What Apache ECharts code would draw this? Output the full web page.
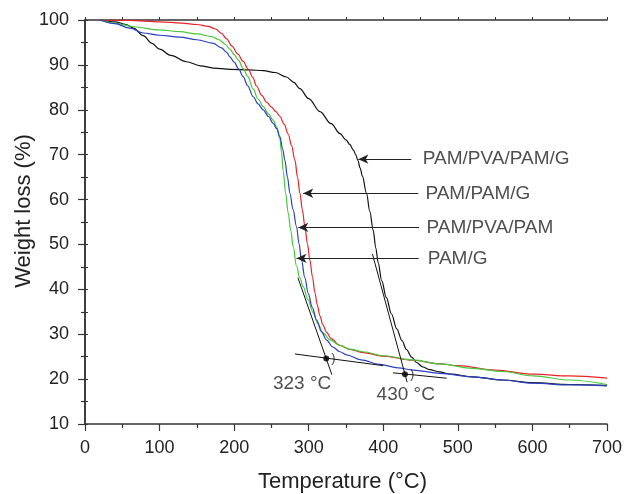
<!DOCTYPE html>
<html>
<head>
<meta charset="utf-8">
<script src="https://cdn.jsdelivr.net/npm/echarts@6/dist/echarts.min.js"></script>
<style>
html,body{margin:0;padding:0;background:#fff}
#chart{width:627px;height:494px}
</style>
</head>
<body>
<div id="chart"></div>
<script>
// TGA curves, [temperature, weight %]
var pamPvaPamG = [[20,100],[40,99.6],[55,99],[65,98.2],[78,96.5],[90,94.8],[100,93.5],[115,92.1],[136,90.7],[155,89.8],[172,89.3],[195,89],[220,88.9],[239,88.7],[255,88.3],[270,87.3],[280,86.1],[288,84.7],[300,82.5],[315,79.6],[330,76.9],[342,74.7],[350,73.3],[355,72.3],[360,71],[363,70],[366,68.7],[369,67],[372,65.2],[377.5,61.4],[382,57.3],[386.4,53.2],[390,49.2],[393,46],[398,41.9],[404,38.2],[411,34.5],[418,31.2],[425,28.6],[431,26.6],[438,24.9],[444.5,23.7],[453,22.7],[462,22.1],[475,21.6],[490,21.1],[520,20.5],[560,19.8],[600,19.2],[650,18.8],[700,18.6]];
var pamPamG = [[20,100],[60,99.9],[100,99.6],[130,99.3],[150,99],[165,98.6],[175,98],[183,97],[190,95.8],[197,94.2],[205,92.4],[212,90.8],[219,89],[225,87.2],[230,85.3],[237,83.2],[243.5,81.7],[250,80.6],[256,79.6],[261.4,78.5],[267,76.8],[272.5,74.6],[277,72],[281.5,68.8],[285,65],[288.2,61.4],[291.5,57.7],[294.9,54],[298.2,50.2],[301.6,46.5],[305,42.8],[308.3,39.3],[311.5,36.5],[315,34.1],[319,32.1],[324,30.4],[330,29],[342,27.5],[355,26.6],[373,25.9],[400,25.1],[440,24.2],[476,23.4],[500,23],[550,22],[601,21.1],[650,20.7],[700,20.2]];
var pamG = [[20,100],[40,99.3],[65,98.5],[100,97.8],[127,97.4],[150,96.9],[170,96.3],[180,95.6],[188,94.6],[194.3,93.5],[200,92.3],[206,91],[212,89.2],[218,87.5],[225.6,84.6],[232,82.4],[239,80.7],[246,79.1],[252.4,77.7],[257,76.2],[261.4,73.5],[263.5,70.5],[265.8,66.3],[269,61.5],[272.5,57],[276,53],[279.2,49.5],[283.6,45.2],[288,42.6],[292.6,40.6],[299,37.7],[306,34.8],[312,32.4],[319.4,30.3],[328,28.8],[341.8,27.5],[355,26.7],[373,26.1],[400,25.2],[440,24.3],[476,23.4],[520,22.4],[560,21.7],[601,20.7],[650,19.8],[700,18.8]];
var pamPvaPam = [[20,100],[40,99.2],[60,98.2],[78,97.1],[100,96.6],[127,96.2],[150,95.6],[172,94.8],[183,93.8],[190,92.8],[194.3,91.8],[200,90.6],[206,89.1],[212,87.4],[218,85.4],[225.6,82.9],[232,81.3],[239,80],[246,78.5],[252.4,77],[257,75.8],[261.4,74],[265,71.3],[268,68.8],[271.5,65],[274.8,61.4],[279,57.8],[283.6,54],[287,50.2],[290.3,46.5],[294.8,42.6],[299.3,39.1],[304.8,36],[310.4,33.2],[317,30.6],[324,28.7],[332,27.2],[341.8,26.1],[350.7,25.4],[370,24.3],[395,23.3],[420,22.5],[440,22],[476,21.3],[520,20.5],[560,19.8],[601,19.1],[650,18.7],[700,18.5]];

// tangent construction lines
var tan323a = [[285.5,42.6],[331,21.0]];
var tan323b = [[281.5,25.6],[400,23.0]];
var tan430a = [[385.4,47.9],[432,19.3]];
var tan430b = [[413,21.4],[485,20.2]];
var onsetPts = [[323.5,24.6],[429,21.1]];
var onsetText = ['323 °C','430 °C'];
var onsetTextPos = [[252,19.0],[391,16.6]];

// arrow labels
var labelNames = ['PAM/PVA/PAM/G','PAM/PAM/G','PAM/PVA/PAM','PAM/G'];
var arrowY = [69,61.4,53.8,46.9];
var arrowTip = [366.5,292.6,285.9,283.6];
var arrowTail = [437.5,447,448,447.5];
var labelX = [453,456.5,458,459.5];

var chart = echarts.init(document.getElementById('chart'));
var font = 'Liberation Sans, Arial, sans-serif';

function curve(name, pts, color){
    return {
        name: name, type: 'line', data: pts,
        showSymbol: false, smooth: 0.35, smoothMonotone: 'x',
        lineStyle: {color: color, width: 1.2}, z: 3
    };
}
function seg(pts){
    return {
        type: 'line', data: pts, showSymbol: false,
        lineStyle: {color: '#111', width: 1}, z: 4
    };
}

var arrowLines = [];
var labelPts = [];
for (var i = 0; i < labelNames.length; i++) {
    arrowLines.push([
        {coord: [arrowTail[i], arrowY[i]], symbol: 'none'},
        {coord: [arrowTip[i], arrowY[i]], symbol: 'arrow'}
    ]);
    labelPts.push({value: [labelX[i], arrowY[i]], name: labelNames[i]});
}

option = {
    animation: false,
    grid: {left: 85, right: 20, top: 20, bottom: 70, outerBoundsMode: 'none'},
    xAxis: [{
        type: 'value', min: 0, max: 700, interval: 100,
        name: 'Temperature (°C)', nameLocation: 'middle', nameGap: 47,
        nameTextStyle: {fontFamily: font, fontSize: 22, color: '#222', padding: [0, 7, 0, 0]},
        axisLine: {lineStyle: {color: '#333', width: 1.5}},
        axisTick: {length: 7, lineStyle: {color: '#333', width: 1.2}},
        minorTick: {show: true, splitNumber: 2, length: 4, lineStyle: {color: '#333', width: 1.2}},
        axisLabel: {fontFamily: font, fontSize: 18, color: '#222', margin: 15},
        splitLine: {show: false}
    }, {
        type: 'value', position: 'top', min: 0, max: 700, interval: 50,
        axisLine: {lineStyle: {color: '#333', width: 1.5}},
        axisTick: {length: 3, lineStyle: {color: '#333'}},
        axisLabel: {show: false}, splitLine: {show: false}
    }],
    yAxis: [{
        type: 'value', min: 10, max: 100, interval: 10,
        name: 'Weight loss (%)', nameLocation: 'middle', nameGap: 50, nameMoveOverlap: false,
        nameTextStyle: {fontFamily: font, fontSize: 22, color: '#222', padding: [0, 0, 0, 22]},
        axisLine: {lineStyle: {color: '#333', width: 1.5}},
        axisTick: {length: 7, lineStyle: {color: '#333', width: 1.2}},
        minorTick: {show: true, splitNumber: 2, length: 4, lineStyle: {color: '#333', width: 1.2}},
        axisLabel: {fontFamily: font, fontSize: 18, color: '#222', margin: 16},
        splitLine: {show: false}
    }, {
        type: 'value', position: 'right', min: 10, max: 100, interval: 5,
        axisLine: {show: true, lineStyle: {color: '#333', width: 1.5}},
        axisTick: {show: true, length: 3, lineStyle: {color: '#333'}},
        axisLabel: {show: false}, splitLine: {show: false}
    }],
    series: [
        curve('PAM/PVA/PAM/G', pamPvaPamG, '#111111'),
        curve('PAM/PAM/G', pamPamG, '#e8232a'),
        curve('PAM/G', pamG, '#46c83c'),
        curve('PAM/PVA/PAM', pamPvaPam, '#2a3fbf'),
        seg(tan323a), seg(tan323b), seg(tan430a), seg(tan430b),
        {
            type: 'scatter', data: onsetPts, symbolSize: 6, z: 5,
            itemStyle: {color: '#000'},
            label: {show: true, position: 'right', distance: 2, formatter: ')',
                fontFamily: font, fontSize: 13, color: '#111'}
        },
        {
            type: 'scatter', symbolSize: 0, z: 5,
            data: onsetTextPos.map(function(p, k){ return {value: p, name: onsetText[k]}; }),
            label: {show: true, position: 'right', distance: 0, formatter: '{b}',
                fontFamily: font, fontSize: 19, color: '#222'}
        },
        {
            type: 'scatter', symbolSize: 0, z: 5, data: labelPts,
            label: {show: true, position: 'right', distance: 0, formatter: '{b}',
                fontFamily: font, fontSize: 19, color: '#222'},
            markLine: {
                silent: true, symbolSize: [7, 10],
                lineStyle: {color: '#222', width: 1.2, type: 'solid'},
                label: {show: false},
                data: arrowLines
            }
        }
    ]
};
chart.setOption(option);
</script>
</body>
</html>
